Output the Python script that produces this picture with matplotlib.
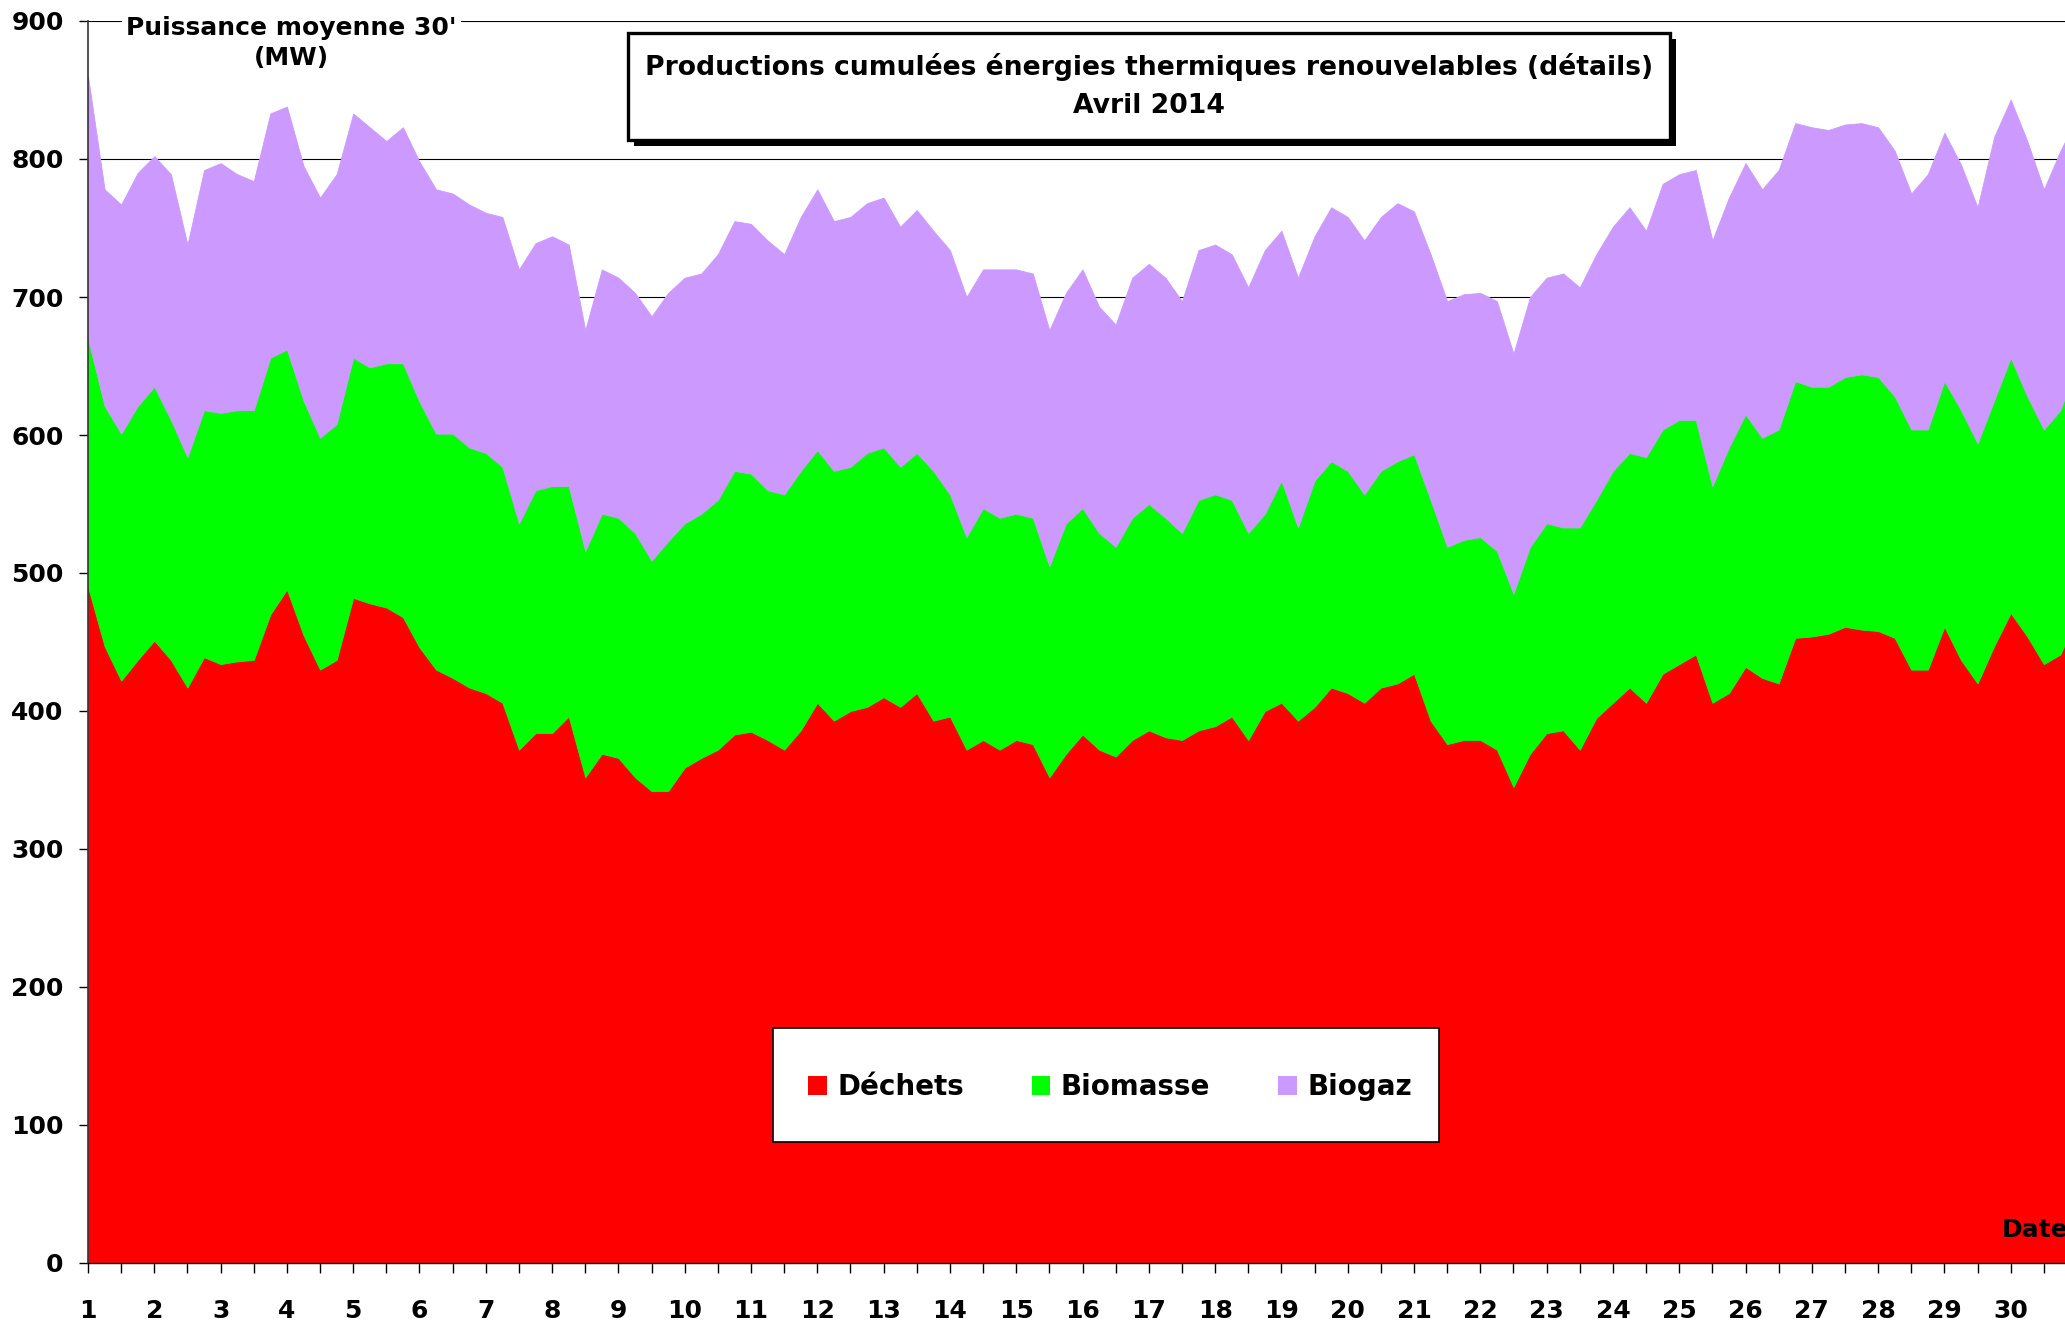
import matplotlib
matplotlib.use("Agg")
import matplotlib.pyplot as plt
import numpy as np
from matplotlib.patches import Rectangle, Patch

# ---------------- data (MW, every 6 h, 1 -> 31 avril) ----------------
jours = np.linspace(1, 31, 121)

dechets = [490, 447, 422, 437, 451, 437, 417, 439, 434, 436, 437, 470, 488, 455, 430, 437,
           482, 478, 475, 468, 446, 430, 424, 417, 413, 406, 372, 384, 384, 396, 352, 369,
           366, 352, 342, 342, 359, 366, 372, 383, 385, 379, 372, 386, 406, 393, 400, 403,
           410, 403, 413, 393, 396, 372, 379, 372, 379, 376, 352, 369, 383, 372, 367, 379,
           386, 381, 379, 386, 389, 396, 379, 400, 406, 393, 403, 417, 413, 406, 417, 420,
           427, 393, 376, 379, 379, 372, 345, 369, 384, 386, 372, 395, 406, 417, 406, 427,
           434, 441, 406, 413, 432, 424, 420, 453, 454, 456, 461, 459, 458, 453, 430, 430,
           461, 437, 420, 447, 471, 454, 434, 441, 468]

biomasse = [180, 174, 179, 184, 184, 174, 167, 179, 182, 182, 181, 186, 174, 170, 168, 171,
            174, 171, 177, 184, 178, 171, 177, 174, 174, 171, 164, 176, 179, 167, 164, 174,
            174, 177, 167, 181, 177, 177, 181, 191, 187, 181, 185, 188, 183, 181, 177, 184,
            181, 174, 174, 181, 161, 154, 168, 168, 164, 164, 153, 167, 164, 157, 152, 161,
            164, 159, 150, 167, 168, 157, 150, 143, 161, 140, 164, 164, 161, 151, 157, 161,
            159, 160, 143, 145, 147, 144, 140, 150, 152, 147, 161, 158, 168, 170, 178, 177,
            177, 170, 157, 178, 183, 174, 184, 186, 181, 179, 181, 185, 184, 175, 174, 174,
            178, 181, 174, 178, 185, 174, 170, 177, 184]

biogaz = [190, 157, 166, 169, 167, 178, 154, 174, 181, 171, 166, 177, 176, 170, 174, 181,
          177, 174, 161, 171, 174, 177, 174, 176, 174, 181, 184, 179, 181, 175, 160, 177,
          174, 174, 177, 180, 178, 174, 178, 181, 181, 181, 174, 184, 189, 181, 181, 181,
          181, 174, 176, 174, 177, 174, 173, 180, 177, 177, 171, 167, 173, 164, 161, 174,
          174, 174, 168, 181, 181, 178, 178, 191, 181, 181, 177, 184, 184, 184, 184, 187,
          176, 178, 178, 178, 177, 181, 174, 181, 178, 184, 174, 178, 177, 178, 164, 178,
          178, 181, 178, 181, 182, 180, 188, 187, 188, 186, 183, 182, 181, 178, 171, 185,
          180, 178, 171, 191, 187, 185, 174, 188, 178]

series_noms = ["Déchets", "Biomasse", "Biogaz"]
series_couleurs = ["#FF0000", "#00FF00", "#CC99FF"]

jours_ticks = list(range(1, 31))
etiquettes_jours = [str(d) for d in jours_ticks]
y_ticks = list(range(0, 901, 100))

titre = "Productions cumulées énergies thermiques renouvelables (détails)\nAvril 2014"
label_y = "Puissance moyenne 30'\n(MW)"
label_x = "Date"

# ---------------- figure ----------------
plt.rcParams["font.family"] = ["DejaVu Sans"]
plt.rcParams["font.weight"] = "bold"

W, H = 2065, 1322
fig = plt.figure(figsize=(W / 100, H / 100), dpi=100)
fig.patch.set_facecolor("white")


def fx(px):
    return px / W


def fy(py):
    return 1 - py / H


ax = fig.add_axes([fx(88), fy(1263), (2077 - 88) / W, (1263 - 21) / H])

polys = ax.stackplot(jours, dechets, biomasse, biogaz, colors=series_couleurs)
for p, c in zip(polys, series_couleurs):
    p.set_edgecolor(c)
    p.set_linewidth(0.6)

ax.set_xlim(1, 31)
ax.set_ylim(0, 900)

ax.set_xticks(jours_ticks)
ax.set_xticklabels(etiquettes_jours, fontsize=18, fontweight="bold")
ax.set_xticks(np.arange(1.5, 31.01, 0.5), minor=True)
ax.set_yticks(y_ticks)
ax.set_yticklabels([str(v) for v in y_ticks], fontsize=18, fontweight="bold")

ax.tick_params(axis="x", which="both", direction="out", length=7.2, width=1.0,
               pad=19, color="black")
ax.tick_params(axis="y", direction="out", length=6.5, width=1.0, pad=11, color="black")

ax.grid(axis="y", color="black", linewidth=0.8)
ax.set_axisbelow(True)

for s in ["top", "right"]:
    ax.spines[s].set_visible(False)
ax.spines["left"].set_color("#333333")
ax.spines["left"].set_linewidth(1.2)
ax.spines["bottom"].set_color("black")
ax.spines["bottom"].set_linewidth(1.0)

# y axis label (top-left)
fig.text(fx(291), fy(43), label_y, ha="center", va="center", fontsize=18,
         fontweight="bold", linespacing=1.3,
         bbox=dict(facecolor="white", edgecolor="none", pad=3))

# title box with shadow
bx0, bx1, by0, by1 = 628, 1670, 33, 140
fig.patches.append(Rectangle((fx(bx0 + 6), fy(by1 + 6)), (bx1 - bx0) / W, (by1 - by0) / H,
                             transform=fig.transFigure, facecolor="black",
                             edgecolor="black", linewidth=0, zorder=2))
fig.patches.append(Rectangle((fx(bx0), fy(by1)), (bx1 - bx0) / W, (by1 - by0) / H,
                             transform=fig.transFigure, facecolor="white",
                             edgecolor="black", linewidth=2.4, zorder=3))
fig.text(fx((bx0 + bx1) / 2), fy(86), titre, ha="center", va="center", fontsize=19.2,
         fontweight="bold", linespacing=1.6, zorder=4)

# legend box
lx0, lx1, ly0, ly1 = 773, 1439, 1028, 1142
fig.patches.append(Rectangle((fx(lx0), fy(ly1)), (lx1 - lx0) / W, (ly1 - ly0) / H,
                             transform=fig.transFigure, facecolor="white",
                             edgecolor="black", linewidth=1.2, zorder=3))
handles = [Patch(facecolor=c, edgecolor="none") for c in series_couleurs]
leg = fig.legend(handles, series_noms, loc="center",
                 bbox_to_anchor=(fx((lx0 + lx1) / 2 + 4), fy((ly0 + ly1) / 2 + 2)),
                 ncol=3, frameon=False, prop={"size": 20, "weight": "bold"},
                 handlelength=0.66, handleheight=0.66, handletextpad=0.38,
                 columnspacing=2.45, borderpad=0)
leg.set_zorder(5)

# Date label
fig.text(fx(2002), fy(1230), label_x, ha="left", va="center", fontsize=18,
         fontweight="bold")

fig.savefig("out.png", dpi=100, facecolor="white")
